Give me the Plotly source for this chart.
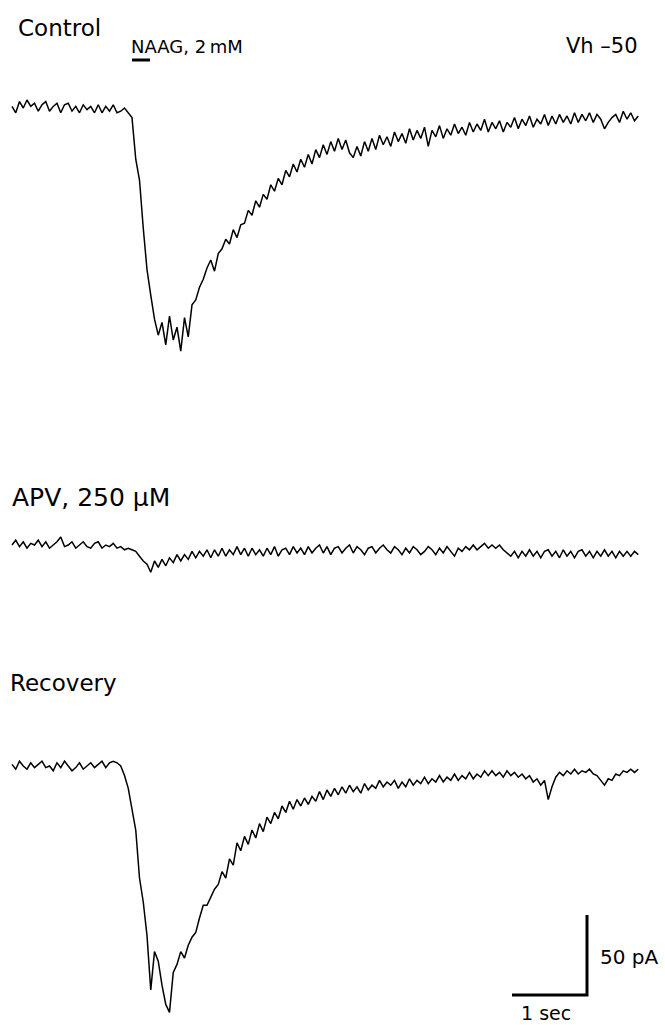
import numpy as np
import plotly.graph_objects as go

# ---------------- data (pA, sampled every 50 ms) ----------------
DT = 0.05  # s between samples

control_pA = [
    1, -3, 4, 0, 5, 1, 3, -2, 2, 4, -2, 1, 3, -3, 2, 3, -2, 1, -3, 2,
    -1, 1, -3, 2, -3, 1, -2, 2, -3, -2, 0, -3,
    -6, -32, -45, -75, -101, -117, -132, -142, -134, -148, -130, -145, -137, -152, -131, -143, -123, -120,
    -112, -107, -100, -95, -102, -91, -88, -82, -85, -76, -81, -73, -72, -64, -67, -58, -62, -54, -57, -48,
    -52, -44, -48, -39, -43, -35, -40, -32, -37, -29, -35, -26, -31, -23, -29, -21, -27, -19, -26, -20,
    -28, -31, -24, -30, -21, -27, -19, -26, -17, -23, -18, -24, -15, -21, -16, -22, -13, -20, -14, -19,
    -12, -24, -14, -18, -11, -19, -13, -17, -10, -16, -12, -17, -9, -15, -10, -14, -7, -15, -9, -13,
    -8, -15, -9, -12, -6, -13, -7, -11, -5, -12, -7, -10, -4, -11, -5, -10, -4, -9, -5, -10,
    -3, -9, -4, -8, -3, -9, -4, -7, -13, -9, -6, -4, -9, -2, -7, -3, -8, -5,
]

apv_pA = [
    0, 3, -1, 2, -2, 1, 0, 3, -1, 2, -2, 0, 2, 5, -1, 0, 2, -2, 0, 2,
    -1, -2, 1, 2, -2, 0, -1, 1, -2, -1, -3, -2, -3, -4, -7, -10, -12, -17, -10, -14,
    -9, -13, -8, -11, -6, -10, -6, -9, -4, -8, -4, -7, -3, -8, -3, -7, -2, -7, -3, -6,
    -1, -6, -2, -7, -2, -6, -3, -7, -2, -6, -1, -7, -3, -2, -6, -1, -5, -2, -6, -1,
    -5, -2, 0, -5, -1, -6, -2, -1, -5, -2, 0, -5, -1, -3, -6, -2, -1, -5, -2, 0,
    -3, -5, -1, -3, -6, -2, -5, -1, -3, -6, -4, -1, -3, -6, -2, -5, -1, -4, -7, -2,
    -4, -1, -3, 0, -3, -1, 1, -2, 0, -2, 0, -3, -5, -7, -4, -8, -4, -7, -3, -7,
    -4, -8, -4, -3, -7, -4, -8, -3, -7, -4, -8, -4, -3, -7, -4, -8, -4, -7, -3, -7,
    -4, -8, -4, -7, -4, -7, -4, -6,
]

recovery_pA = [
    1, -2, 3, 0, -2, 2, -1, 1, 3, -1, 0, -3, 2, -1, 3, 0, -3, -1, 2, -2,
    0, 2, -1, 1, 3, -1, 2, 3, 2, 0, -6, -14, -26, -40, -70, -85, -106, -140, -116, -122,
    -137, -149, -154, -129, -124, -116, -120, -112, -107, -104, -95, -87, -87, -82, -77, -74, -66, -70, -58, -62,
    -48, -53, -44, -49, -40, -45, -36, -41, -32, -36, -29, -33, -25, -29, -22, -27, -21, -25, -20, -24,
    -19, -22, -16, -21, -15, -19, -14, -18, -13, -17, -12, -16, -13, -17, -11, -15, -12, -14, -9, -13,
    -10, -12, -9, -14, -10, -13, -8, -12, -9, -11, -7, -11, -8, -10, -6, -10, -7, -9, -5, -9,
    -6, -8, -4, -8, -5, -7, -3, -6, -3, -6, -4, -7, -3, -6, -4, -7, -5, -8, -6, -10,
    -8, -12, -9, -21, -13, -7, -4, -6, -3, -5, -2, -5, -3, -4, -2, -5, -6, -9, -12, -8,
    -9, -5, -6, -3, -4, -2, -4, -2,
]

trace_labels = ["Control", "APV, 250 \u03bcM", "Recovery"]
drug_label = "NAAG, 2\u2009mM"
hold_label = "Vh \u201350"
drug_on_s, drug_off_s = 1.60, 1.84
scale_t_s = 1.0       # horizontal scale bar length
scale_i_pA = 50.0     # vertical scale bar length
scale_t_label = "1 sec"
scale_i_label = "50 pA"

# ---------------- layout geometry (pixels) ----------------
W, H = 665, 1025
PX_PER_S = 75.0
PX_PER_PA = 1.6
X0_PX = 12  # pixel where t = 0
# (baseline px, domain top px, domain bottom px)
panels = [(108, 60, 375), (545, 505, 595), (766, 735, 1025)]


def frac_y(py):
    return 1 - py / H


def frac_x(px):
    return px / W


x_range = [(0 - X0_PX) / PX_PER_S, (W - X0_PX) / PX_PER_S]

fig = go.Figure()
series = [control_pA, apv_pA, recovery_pA]
axis_names = ["y", "y2", "y3"]
for vals, ax in zip(series, axis_names):
    tt = np.arange(len(vals)) * DT
    fig.add_trace(go.Scatter(x=tt, y=vals, mode="lines", yaxis=ax,
                             line=dict(color="black", width=1.5),
                             hoverinfo="skip", showlegend=False))

layout_axes = {}
for k, (base, top, bot) in enumerate(panels):
    name = "yaxis" if k == 0 else f"yaxis{k+1}"
    layout_axes[name] = dict(
        domain=[frac_y(bot), frac_y(top)],
        range=[(base - bot) / PX_PER_PA, (base - top) / PX_PER_PA],
        visible=False, fixedrange=True,
        anchor="x",
    )

# scale bar on the recovery axis
sb_x_end = (587 - X0_PX) / PX_PER_S
sb_y = (766 - 995) / PX_PER_PA
fig.add_trace(go.Scatter(
    x=[sb_x_end - scale_t_s, sb_x_end, sb_x_end],
    y=[sb_y, sb_y, sb_y + scale_i_pA],
    mode="lines", yaxis="y3", line=dict(color="black", width=3),
    hoverinfo="skip", showlegend=False))

fig.update_layout(
    width=W, height=H,
    margin=dict(l=0, r=0, t=0, b=0),
    paper_bgcolor="white", plot_bgcolor="white",
    xaxis=dict(range=x_range, visible=False, fixedrange=True),
    **layout_axes,
)

# drug application bar
fig.add_shape(type="line", xref="x", yref="paper",
              x0=drug_on_s, x1=drug_off_s, y0=frac_y(60), y1=frac_y(60),
              line=dict(color="black", width=3))

FONT = "DejaVu Sans"


def label(text, px, py, size, anchor="left"):
    fig.add_annotation(text=text, xref="paper", yref="paper",
                       x=frac_x(px), y=frac_y(py), xanchor=anchor, yanchor="middle",
                       showarrow=False, font=dict(family=FONT, size=size, color="black"))


label(trace_labels[0], 16, 28, 23)
label(drug_label, 129, 46, 18)
label(hold_label, 564, 46, 21)
label(trace_labels[1], 10, 497, 25)
label(trace_labels[2], 8, 683, 23)
label(scale_i_label, 598, 957, 20)
label(scale_t_label, 519, 1013, 19)

fig.write_html("out.html", config={"displayModeBar": False},
               post_script="document.body.style.margin='0';document.body.style.overflow='hidden';")
